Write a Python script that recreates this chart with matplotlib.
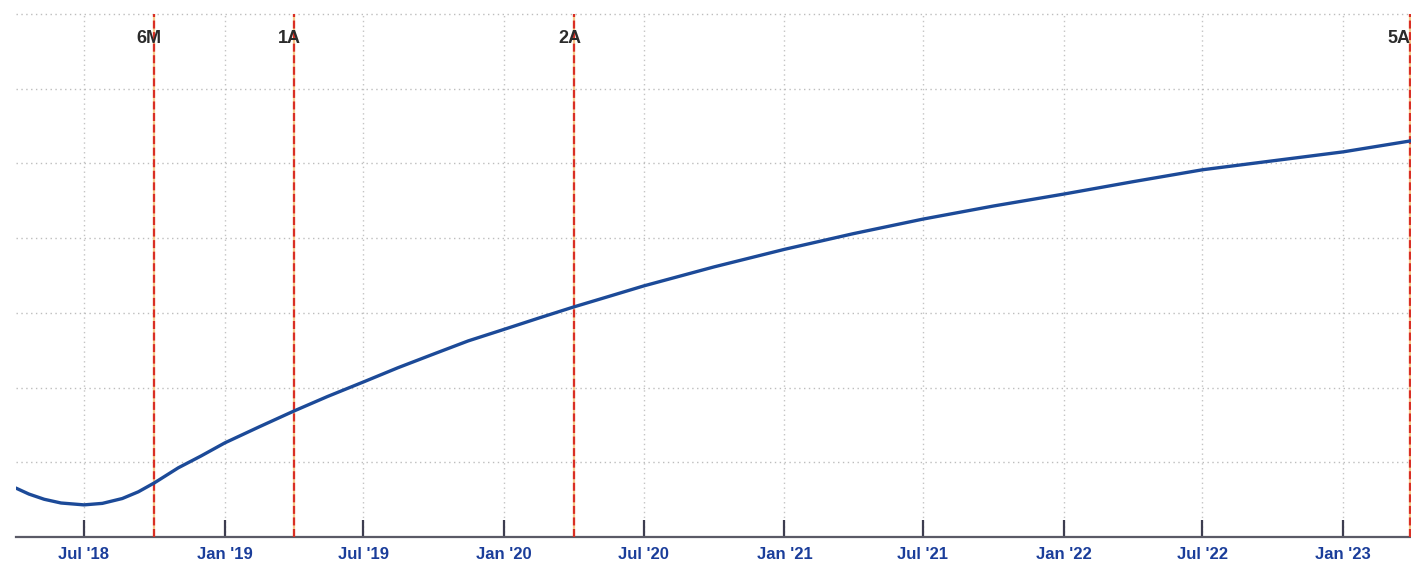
import matplotlib
matplotlib.use("Agg")
import matplotlib.pyplot as plt
import matplotlib.dates as mdates
from matplotlib.transforms import offset_copy
import datetime as dt

# ---- data ----
curve_dates = ['2018-04-03', '2018-04-20', '2018-05-10', '2018-06-01', '2018-07-01',
               '2018-07-25', '2018-08-20', '2018-09-10', '2018-10-01', '2018-11-01',
               '2018-12-01', '2019-01-01', '2019-02-15', '2019-04-01', '2019-05-15',
               '2019-07-01', '2019-08-15', '2019-10-01', '2019-11-15', '2020-01-01',
               '2020-02-15', '2020-04-01', '2020-05-15', '2020-07-01', '2020-10-01',
               '2021-01-01', '2021-04-01', '2021-07-01', '2021-10-01', '2022-01-01',
               '2022-04-01', '2022-07-01', '2022-10-01', '2023-01-01', '2023-04-10']
curve_values = [-0.269, -0.285, -0.299, -0.309, -0.314,
                -0.310, -0.297, -0.279, -0.255, -0.215,
                -0.183, -0.148, -0.105, -0.063, -0.024,
                0.015, 0.053, 0.090, 0.125, 0.156,
                0.186, 0.216, 0.243, 0.272, 0.323,
                0.370, 0.412, 0.451, 0.486, 0.518,
                0.551, 0.583, 0.607, 0.631, 0.664]

marker_labels = ['6M', '1A', '2A', '5A']
marker_dates = ['2018-10-01', '2019-04-01', '2020-04-01', '2023-03-29']

tick_dates = ['2018-07-01', '2019-01-01', '2019-07-01', '2020-01-01', '2020-07-01',
              '2021-01-01', '2021-07-01', '2022-01-01', '2022-07-01', '2023-01-01']
tick_labels = ["Jul '18", "Jan '19", "Jul '19", "Jan '20", "Jul '20",
               "Jan '21", "Jul '21", "Jan '22", "Jul '22", "Jan '23"]

y_grid = [-0.2, 0.0, 0.2, 0.4, 0.6, 0.8, 1.0]
y_min, y_max = -0.4, 1.0

# ---- figure ----
W, H = 1411, 562
fig = plt.figure(figsize=(W / 100, H / 100), dpi=100)
plt.rcParams['font.family'] = ['Liberation Sans', 'DejaVu Sans']

ax_left_px, ax_right_px = 16, 1425
ax_bottom_px, ax_top_px = 537, 14
ax = fig.add_axes([ax_left_px / W, (H - ax_bottom_px) / H,
                   (ax_right_px - ax_left_px) / W, (ax_bottom_px - ax_top_px) / H])

def d2n(s):
    return mdates.date2num(dt.datetime.strptime(s, '%Y-%m-%d'))

px_per_day = 0.7655
x0 = d2n('2018-07-01') - (84 - ax_left_px) / px_per_day
x1 = x0 + (ax_right_px - ax_left_px) / px_per_day

xs = [d2n(s) for s in curve_dates]

# grid
for t in tick_dates:
    ax.axvline(d2n(t), color='#c4c4c4', lw=1.0, ls=(0, (1, 2.5)), zorder=1)
for g in y_grid:
    ax.axhline(g, color='#bdbdbd', lw=1.0, ls=(0, (1, 2.5)), zorder=1, clip_on=False)

# marker lines
label_y = 1 - 24.5 / (ax_bottom_px - ax_top_px)
for lab, d in zip(marker_labels, marker_dates):
    xv = d2n(d)
    ax.axvline(xv, color='#f6c98a', lw=1.6, zorder=2)
    ax.axvline(xv, color='#d92f25', lw=1.6, ls=(0, (3.6, 1.6)), zorder=3)
    dx = 7 if lab != '5A' else 1
    tr = offset_copy(ax.get_xaxis_transform(), fig=fig, x=dx, y=0, units='dots')
    ax.text(xv, label_y, lab, transform=tr,
            ha='right', va='center', fontsize=13, fontweight='bold', color='#2b2b2b',
            zorder=5)

# curve
ax.plot(xs, curve_values, color='#1c4a98', lw=2.4, zorder=4,
        solid_capstyle='round', solid_joinstyle='round')

ax.set_xlim(x0, x1)
ax.set_ylim(y_min, y_max)

ax.set_xticks([d2n(t) for t in tick_dates])
ax.set_xticklabels(tick_labels)
ax.set_yticks([])
ax.tick_params(axis='x', direction='in', length=12, width=1.6, color='#3d3d50',
               pad=7, labelsize=12, labelcolor='#1a3d9a')
for lbl in ax.get_xticklabels():
    lbl.set_fontweight('bold')

for s in ['top', 'left', 'right']:
    ax.spines[s].set_visible(False)
ax.spines['bottom'].set_color('#5a5a66')
ax.spines['bottom'].set_linewidth(1.6)

fig.savefig('out.png', dpi=100)
